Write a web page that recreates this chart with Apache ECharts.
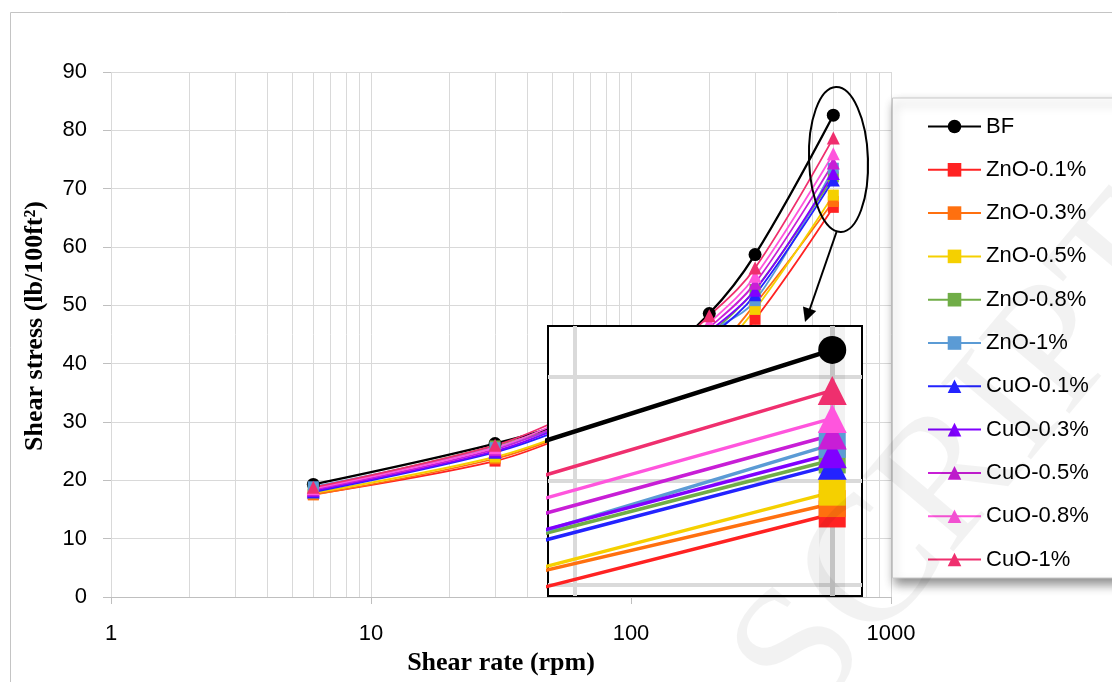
<!DOCTYPE html>
<html><head><meta charset="utf-8">
<script src="https://cdn.jsdelivr.net/npm/echarts@6/dist/echarts.min.js"></script>
<style>html,body{margin:0;padding:0;background:#fff}#c{width:1112px;height:682px}</style>
</head><body><div id="c"></div>
<script>
// ---- data ----
const shearRate = [6, 30, 60, 100, 200, 300, 600];
const seriesNames = ['BF','ZnO-0.1%','ZnO-0.3%','ZnO-0.5%','ZnO-0.8%','ZnO-1%','CuO-0.1%','CuO-0.3%','CuO-0.5%','CuO-0.8%','CuO-1%'];
const BF      = [19.3, 26.3, 30.5, 36.5, 48.6, 58.7, 82.6];
const ZnO_01  = [17.6, 23.3, 28.0, 32.0, 39.5, 47.6, 66.8];
const ZnO_03  = [17.5, 23.7, 28.3, 32.8, 41.5, 50.2, 67.8];
const ZnO_05  = [17.8, 24.0, 28.5, 33.0, 41.0, 49.3, 68.9];
const ZnO_08  = [18.5, 25.9, 30.0, 34.5, 45.0, 52.7, 72.0];
const ZnO_1   = [18.9, 25.6, 30.0, 34.7, 45.3, 50.8, 73.5];
const CuO_01  = [18.0, 24.8, 29.5, 34.2, 44.5, 51.8, 71.5];
const CuO_03  = [18.2, 25.0, 30.0, 34.8, 45.5, 52.6, 72.6];
const CuO_05  = [18.4, 25.3, 30.5, 35.3, 46.2, 53.8, 74.4];
const CuO_08  = [18.6, 25.6, 31.0, 35.8, 47.0, 55.0, 76.0];
const CuO_1   = [18.8, 26.0, 31.5, 36.5, 48.2, 56.4, 78.7];
const seriesValues = [BF, ZnO_01, ZnO_03, ZnO_05, ZnO_08, ZnO_1, CuO_01, CuO_03, CuO_05, CuO_08, CuO_1];
const yMin = 0, yMax = 90, yStep = 10;
const xMin = 1, xMax = 1000;
const xTitle = 'Shear rate (rpm)';
const yTitle = 'Shear stress (lb/100ft²)';

// ---- styles ----
const colors = ['#000000','#ff2222','#ff700f','#f5d000','#70ad47','#5b9bd5','#2323ff','#8000ff','#c81ed6','#ff55dd','#ef2f6e'];
const symbols = ['circle','rect','rect','rect','rect','rect','triangle','triangle','triangle','triangle','triangle'];
const mainSize = {circle: 13, rect: 11, triangle: 13};
const insetSize = {circle: 28, rect: 27, triangle: 29};

// log gridlines 1..9, 10..90, 100..1000
const xGrid = [];
for (let d = 1; d < xMax; d *= 10) for (let k = 1; k < 10; k++) xGrid.push(k * d);
xGrid.push(xMax);

const FONT = 'Liberation Sans';
const SERIF = 'Liberation Serif';

const series = [];
series.push({
  type: 'line', xAxisIndex: 0, yAxisIndex: 0, data: [], silent: true,
  markLine: { z: 1, silent: true, symbol: ['none','none'], label: {show: false},
    lineStyle: {color: '#d9d9d9', width: 1, type: 'solid'},
    data: xGrid.map(v => ({xAxis: v})) }
});
seriesNames.forEach((name, i) => {
  const data = shearRate.map((x, j) => [x, seriesValues[i][j]]);
  series.push({
    name, type: 'line', xAxisIndex: 0, yAxisIndex: 0, data, z: 2,
    smooth: 0.35, symbol: symbols[i], symbolSize: mainSize[symbols[i]],
    lineStyle: {color: colors[i], width: i === 0 ? 2.3 : 1.8},
    itemStyle: {color: colors[i]}
  });
});
// inset gridlines
series.push({
  type: 'line', xAxisIndex: 1, yAxisIndex: 1, data: [], silent: true, z: 11,
  markLine: { z: 11, silent: true, symbol: ['none','none'], label: {show: false},
    lineStyle: {color: '#dadada', width: 4, type: 'solid'},
    data: [
      {yAxis: 60}, {yAxis: 70}, {yAxis: 80}, {xAxis: 478},
      {xAxis: 600, lineStyle: {color: 'rgba(0,0,0,0.05)', width: 26}},
      {xAxis: 600, lineStyle: {color: '#c4c4c4', width: 5}}
    ] }
});
seriesNames.forEach((name, i) => {
  const data = shearRate.map((x, j) => [x, seriesValues[i][j]]);
  series.push({
    name, type: 'line', xAxisIndex: 1, yAxisIndex: 1, data, z: 12, clip: true,
    smooth: false, symbol: symbols[i], symbolSize: insetSize[symbols[i]],
    lineStyle: {color: colors[i], width: i === 0 ? 4.5 : 3.5},
    itemStyle: {color: colors[i]}
  });
});

const chart = echarts.init(document.getElementById('c'), null, {renderer: 'canvas'});
chart.setOption({
  animation: false,
  backgroundColor: '#ffffff',
  grid: [
    {left: 111, top: 72, width: 780, height: 525, containLabel: false},
    {left: 548, top: 326, width: 314, height: 270, show: true, z: 10,
     backgroundColor: '#ffffff', borderColor: '#000000', borderWidth: 2}
  ],
  xAxis: [
    {type: 'log', logBase: 10, min: xMin, max: xMax, gridIndex: 0,
     axisLine: {show: true, lineStyle: {color: '#bfbfbf'}},
     axisTick: {show: true, length: 7, lineStyle: {color: '#bfbfbf'}},
     axisLabel: {fontFamily: FONT, fontSize: 22, color: '#000', margin: 26,
       formatter: v => String(Math.round(v))},
     splitLine: {show: false},
     name: xTitle, nameLocation: 'middle', nameGap: 53, nameMoveOverlap: false,
     nameTextStyle: {fontFamily: SERIF, fontWeight: 'bold', fontSize: 26, color: '#000'}},
    {type: 'log', logBase: 10, min: 466.7, max: 616, gridIndex: 1, show: false,
     splitLine: {show: false}}
  ],
  yAxis: [
    {type: 'value', min: yMin, max: yMax, interval: yStep, gridIndex: 0,
     axisLine: {show: false},
     axisTick: {show: true, length: 8, lineStyle: {color: '#bfbfbf'}},
     axisLabel: {fontFamily: FONT, fontSize: 22, color: '#000', margin: 24},
     splitLine: {show: true, lineStyle: {color: '#d9d9d9', width: 1}}},
    {type: 'value', min: 58.9, max: 84.9, gridIndex: 1, show: false, splitLine: {show: false}}
  ],
  legend: {
    orient: 'vertical', left: 922, top: 109, itemWidth: 53, itemHeight: 17, itemGap: 18.3,
    selectedMode: false, z: 6,
    textStyle: {fontFamily: FONT, fontSize: 22, color: '#000', lineHeight: 25},
    data: seriesNames
  },
  graphic: [
    {type: 'rect', z: -1, shape: {x: 10.5, y: 12.5, width: 1200, height: 800},
     style: {fill: 'none', stroke: '#c4c4c4', lineWidth: 1}},
    {type: 'rect', z: 3, shape: {x: 892.5, y: 98, width: 240, height: 480},
     style: {fill: '#ffffff', stroke: '#c8c8c8', lineWidth: 1,
       shadowBlur: 10, shadowOffsetX: 2, shadowOffsetY: 6, shadowColor: 'rgba(0,0,0,0.45)'}},
    {type: 'text', z: 5, x: 35, y: 326, rotation: Math.PI / 2,
     style: {text: yTitle, font: 'bold 26px "Liberation Serif"', fill: '#000',
       textAlign: 'center', textVerticalAlign: 'middle'}},
    {type: 'ellipse', z: 20, x: 838.5, y: 159.5, rotation: 0.035,
     shape: {cx: 0, cy: 0, rx: 29.5, ry: 72.5},
     style: {fill: 'none', stroke: '#000', lineWidth: 2}},
    {type: 'polyline', z: 20, shape: {points: [[836.5, 232], [809.5, 310]]},
     style: {stroke: '#000', lineWidth: 2, fill: 'none'}},
    {type: 'polygon', z: 20, shape: {points: [[805, 322], [816.2, 311.1], [803, 306.5]]},
     style: {fill: '#000'}},
    {type: 'text', z: 30, x: 840, y: 752, rotation: 0.87, silent: true,
     style: {text: 'SCRIPT', font: '180px "Liberation Serif"', fill: 'rgba(0,0,0,0.05)',
       textAlign: 'left', textVerticalAlign: 'bottom'}}
  ],
  series
});
</script></body></html>
